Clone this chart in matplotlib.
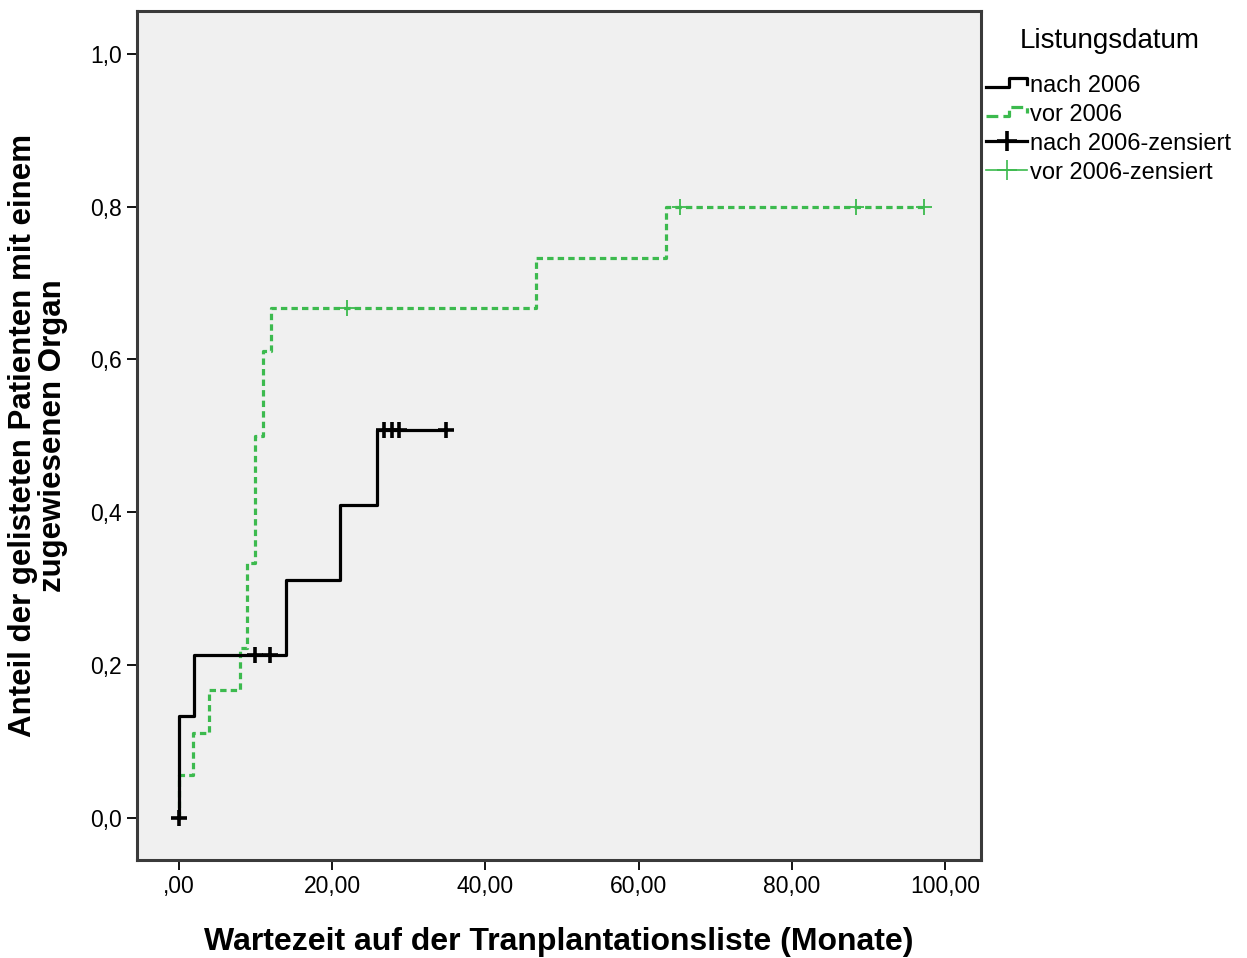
import matplotlib
matplotlib.use("Agg")
import matplotlib.pyplot as plt
from matplotlib.lines import Line2D
from matplotlib.legend_handler import HandlerBase

plt.rcParams['font.family'] = ['Liberation Sans', 'DejaVu Sans']

# ---- data ----
nach_times = [0, 0, 2, 14, 21, 25.8, 34.9]
nach_vals = [0.0, 0.133, 0.213, 0.311, 0.41, 0.508, 0.508]
nach_cens_t = [0, 9.9, 11.9, 26.8, 27.8, 28.7, 34.9]
nach_cens_v = [0.0, 0.213, 0.213, 0.508, 0.508, 0.508, 0.508]

vor_times = [0, 0, 1.8, 3.9, 8.0, 8.9, 9.9, 11.0, 12.0, 46.6, 63.6, 97.3]
vor_vals = [0.0, 0.056, 0.111, 0.167, 0.222, 0.333, 0.5, 0.611, 0.667, 0.733, 0.8, 0.8]
vor_cens_t = [21.9, 65.4, 88.4, 97.3]
vor_cens_v = [0.667, 0.8, 0.8, 0.8]

x_ticks = [0, 20, 40, 60, 80, 100]
x_labels = [",00", "20,00", "40,00", "60,00", "80,00", "100,00"]
y_ticks = [0.0, 0.2, 0.4, 0.6, 0.8, 1.0]
y_labels = ["0,0", "0,2", "0,4", "0,6", "0,8", "1,0"]

legend_title = "Listungsdatum"
legend_labels = ["nach 2006", "vor 2006", "nach 2006-zensiert", "vor 2006-zensiert"]

GREEN = "#3cba4e"
BLACK = "#000000"

fig = plt.figure(figsize=(12.47, 9.58), dpi=100)
fig.patch.set_facecolor("white")
ax = fig.add_axes([137/1247, 1 - 860/958, (981-137)/1247, (860-11)/958])
ax.set_facecolor("#f0f0f0")

dash = (0, (2.0, 1.3))
ax.step(vor_times, vor_vals, where='post', color=GREEN, lw=2.3, linestyle=dash, zorder=3)
ax.step(nach_times, nach_vals, where='post', color=BLACK, lw=2.3, zorder=4)
ax.plot(vor_cens_t, vor_cens_v, linestyle='none', marker='+', ms=12, mew=1.3, color=GREEN, zorder=5)
ax.plot(nach_cens_t, nach_cens_v, linestyle='none', marker='+', ms=12, mew=2.6, color=BLACK, zorder=6)

ax.set_xlim(-5.5, 104.7)
ax.set_ylim(-0.055, 1.056)
ax.set_xticks(x_ticks)
ax.set_xticklabels(x_labels)
ax.set_yticks(y_ticks)
ax.set_yticklabels(y_labels)
ax.tick_params(direction='out', length=7, width=1.3, labelsize=16.5, pad=4, color='black')

for s in ax.spines.values():
    s.set_color("#3a3a3a")
    s.set_linewidth(2.2)

ax.set_xlabel("Wartezeit auf der Tranplantationsliste (Monate)", fontsize=23, fontweight='bold')
ax.xaxis.set_label_coords(0.5, -0.0966)
ax.xaxis.label.set_va('center')
ax.set_ylabel("Anteil der gelisteten Patienten mit einem\nzugewiesenen Organ", fontsize=22.5,
              fontweight='bold', multialignment='center', linespacing=1.02)
ax.yaxis.set_label_coords(-0.1175, 0.5)
ax.yaxis.label.set_va('center')


class StepHandler(HandlerBase):
    def create_artists(self, legend, orig_handle, xdescent, ydescent, width, height, fontsize, trans):
        x0 = -xdescent
        y0 = -ydescent
        xs = [x0, x0 + 0.55*width, x0 + 0.55*width, x0 + width, x0 + width]
        ys = [y0 + 0.3*height, y0 + 0.3*height, y0 + 0.85*height, y0 + 0.85*height, y0 + 0.5*height]
        ln = Line2D(xs, ys, color=orig_handle.get_color(), lw=orig_handle.get_linewidth(),
                    linestyle=orig_handle.get_linestyle())
        ln.set_transform(trans)
        return [ln]


h1 = Line2D([], [], color=BLACK, lw=2.3)
h2 = Line2D([], [], color=GREEN, lw=2.3, linestyle=(0, (1.2, 1.0)))
h3 = Line2D([], [], color=BLACK, lw=2.3, marker='+', ms=14, mew=2.6)
h4 = Line2D([], [], color=GREEN, lw=1.2, marker='+', ms=14, mew=1.2)

fig.text(1110/1247, 1 - 41/958, legend_title, fontsize=20, ha='center', va='center')

leg = fig.legend([h1, h2, h3, h4], legend_labels,
                 loc='upper left', bbox_to_anchor=(986/1247, 1 - 75/958),
                 frameon=False, fontsize=17,
                 handlelength=1.75, handletextpad=0.1, labelspacing=0.29,
                 borderaxespad=0, borderpad=0.0,
                 handler_map={h1: StepHandler(), h2: StepHandler()})

fig.savefig("out.png", dpi=100, facecolor="white")
